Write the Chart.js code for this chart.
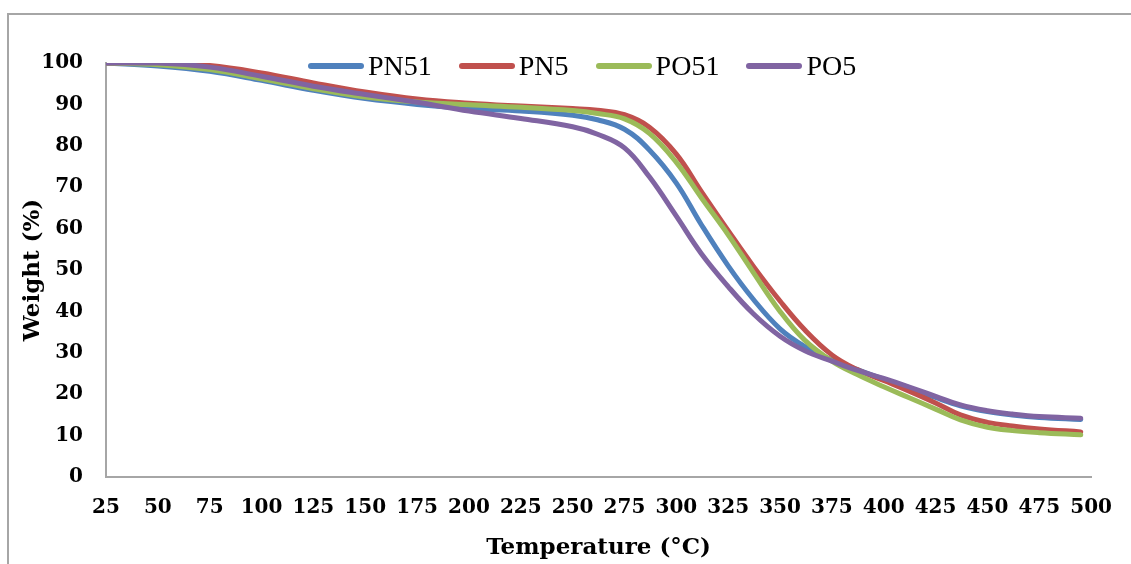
<!DOCTYPE html>
<html>
<head>
<meta charset="utf-8">
<script src="https://cdn.jsdelivr.net/npm/chart.js@4.4.0/dist/chart.umd.min.js"></script>
<style>
	body { margin: 0; background: #fff; overflow: hidden; }
	#wrap { position: relative; width: 1131px; height: 564px; overflow: hidden; }
	#frame { position: absolute; left: 7px; top: 13px; right: 0; bottom: 0; border-top: 2px solid #a6a6a6; border-left: 2px solid #a6a6a6; }
	#legend { position: absolute; left: 308px; top: 50px; }
	canvas { position: absolute; left: 0; top: 0; }
</style>
</head>
<body>
<div id="wrap">
	<div id="frame"></div>
	<canvas id="chart" width="1131" height="564"></canvas>
	<div id="legend"></div>
</div>
<script>
const temps = [25, 50, 75, 100, 125, 150, 175, 200, 225, 250, 262, 275, 287, 300, 312, 325, 337, 350, 362, 375, 387, 400, 412, 425, 437, 450, 462, 475, 495];
const pn51 = [100, 99.3, 98.0, 95.8, 93.4, 91.4, 90.0, 89.0, 88.4, 87.4, 86.3, 84.0, 79.0, 71.0, 61.0, 51.0, 43.0, 35.8, 31.5, 28.3, 26.0, 23.6, 21.6, 19.2, 17.2, 15.8, 15.0, 14.4, 13.9];
const pn5 = [100, 100, 99.4, 97.6, 95.2, 93.0, 91.3, 90.3, 89.6, 89.0, 88.6, 87.5, 84.5, 78.0, 69.0, 59.5, 51.0, 42.5, 35.5, 29.5, 26.0, 23.3, 20.8, 17.9, 15.0, 13.2, 12.3, 11.6, 10.9];
const po51 = [100, 99.6, 98.4, 96.2, 93.8, 91.8, 90.6, 89.9, 89.3, 88.5, 87.8, 86.5, 83.0, 76.0, 67.5, 58.5, 49.5, 40.0, 33.0, 28.0, 24.8, 21.8, 19.2, 16.4, 13.8, 12.0, 11.2, 10.7, 10.2];
const po5 = [100, 100, 99.0, 96.8, 94.4, 92.4, 90.5, 88.4, 86.6, 84.6, 82.8, 79.5, 72.5, 63.0, 54.0, 46.0, 39.5, 34.0, 30.5, 28.0, 25.8, 23.8, 21.8, 19.5, 17.4, 16.0, 15.2, 14.6, 14.2];
const xTicks = [25, 50, 75, 100, 125, 150, 175, 200, 225, 250, 275, 300, 325, 350, 375, 400, 425, 450, 475, 500];

const seriesNames = ['PN51', 'PN5', 'PO51', 'PO5'];
const seriesColors = ['#4f81bd', '#c0504d', '#9bbb59', '#8064a2'];
const seriesValues = [pn51, pn5, po51, po5];

const tickFont = {family: 'DejaVu Serif', size: 20, weight: 'bold'};
const titleFont = {family: 'DejaVu Serif', size: 23, weight: 'bold'};

const datasets = seriesNames.map((name, i) => ({
	label: name,
	data: temps.map((t, j) => ({x: t, y: seriesValues[i][j]})),
	borderColor: seriesColors[i],
	backgroundColor: seriesColors[i],
	borderWidth: 5,
	borderCapStyle: 'round',
	borderJoinStyle: 'round',
	pointRadius: 0,
	tension: 0.4,
	// later series sit on top, as in the original
	order: seriesNames.length - i
}));

// legend as plain html, laid over the plot
const legend = document.getElementById('legend');
legend.style.display = 'flex';
legend.style.alignItems = 'center';
seriesNames.forEach((name, i) => {
	const item = document.createElement('div');
	item.style.display = 'flex';
	item.style.alignItems = 'center';
	item.style.marginRight = '27px';

	const line = document.createElement('span');
	line.style.display = 'inline-block';
	line.style.width = '56px';
	line.style.height = '6px';
	line.style.borderRadius = '3px';
	line.style.background = seriesColors[i];
	line.style.marginRight = '4px';

	const text = document.createElement('span');
	text.textContent = name;
	text.style.font = '28px "Liberation Serif"';
	text.style.color = '#000';

	item.appendChild(line);
	item.appendChild(text);
	legend.appendChild(item);
});

new Chart(document.getElementById('chart'), {
	type: 'line',
	data: {datasets},
	options: {
		responsive: false,
		animation: false,
		layout: {padding: {top: 63, right: 28, left: 0, bottom: 0}},
		plugins: {legend: {display: false}, tooltip: {enabled: false}},
		scales: {
			x: {
				type: 'linear',
				min: 25,
				max: 500,
				afterBuildTicks: scale => { scale.ticks = xTicks.map(v => ({value: v})); },
				afterFit: scale => { scale.height = 87; },
				grid: {display: false, drawTicks: false},
				border: {display: true, color: '#a6a6a6', width: 2},
				ticks: {font: tickFont, color: '#000', padding: 19, maxRotation: 0, autoSkip: false},
				title: {display: true, text: 'Temperature (°C)', font: titleFont, color: '#000', padding: {top: 0, bottom: 2}}
			},
			y: {
				min: 0,
				max: 100,
				afterFit: scale => { scale.width = 106; },
				grid: {display: false, drawTicks: false},
				border: {display: true, color: '#a6a6a6', width: 2},
				ticks: {stepSize: 10, font: tickFont, color: '#000', padding: 23},
				title: {display: true, text: 'Weight (%)', font: titleFont, color: '#000', padding: {top: 19, bottom: 0}}
			}
		}
	}
});
</script>
</body>
</html>
